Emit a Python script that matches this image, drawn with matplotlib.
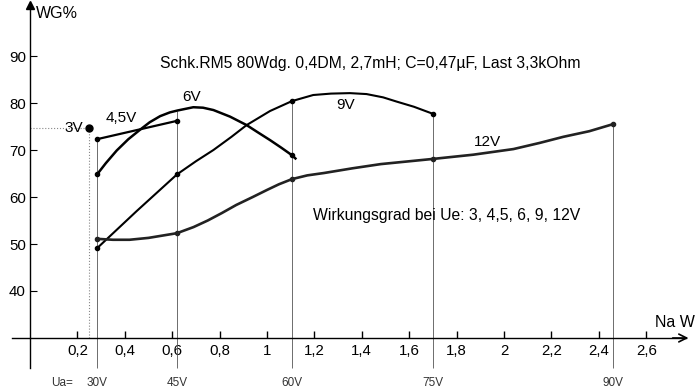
import numpy as np
import matplotlib.pyplot as plt

plt.rcParams['font.family'] = ['Liberation Sans', 'DejaVu Sans']

# ---- Werte (x = Na in W, y = WG in %) ----
u3_x = [0.25]
u3_y = [74.7]

u45_x = [0.283, 0.62]
u45_y = [72.3, 76.2]

u6_x = [0.283, 0.32, 0.366, 0.415, 0.464, 0.505, 0.549, 0.59, 0.622, 0.689, 0.73, 0.774,
        0.844, 0.914, 0.96, 1.013, 1.06, 1.105, 1.12]
u6_y = [64.8, 67.2, 69.9, 72.3, 74.3, 75.9, 77.2, 78.0, 78.4, 79.1, 79.0, 78.5,
        77.1, 75.3, 73.8, 72.1, 70.5, 68.9, 68.2]

u9_x = [0.283, 0.45, 0.62, 0.70, 0.774, 0.85, 0.914, 1.013, 1.105, 1.195, 1.27, 1.35, 1.42,
        1.49, 1.547, 1.62, 1.70]
u9_y = [49.1, 57.0, 64.8, 67.6, 70.0, 72.8, 75.3, 78.3, 80.4, 81.7, 82.0, 82.1, 81.9,
        81.2, 80.3, 79.2, 77.7]

u12_x = [0.283, 0.35, 0.42, 0.5, 0.62, 0.69, 0.75, 0.81, 0.87, 0.94, 1.0, 1.05, 1.105, 1.17,
         1.24, 1.36, 1.48, 1.60, 1.70, 1.87, 2.04, 2.15, 2.25, 2.36, 2.46]
u12_y = [51.1, 50.9, 50.9, 51.3, 52.3, 53.6, 55.0, 56.6, 58.3, 60.0, 61.5, 62.7, 63.8, 64.6,
         65.1, 66.1, 67.0, 67.6, 68.1, 69.0, 70.2, 71.5, 72.8, 74.0, 75.5]

ua_x = [0.283, 0.62, 1.105, 1.70, 2.46]
ua_lab = ['30V', '45V', '60V', '75V', '90V']
ua_top = [72.3, 78.4, 80.4, 77.7, 75.5]

xticks = [0.2, 0.4, 0.6, 0.8, 1.0, 1.2, 1.4, 1.6, 1.8, 2.0, 2.2, 2.4, 2.6]
xlabels = ['0,2', '0,4', '0,6', '0,8', '1', '1,2', '1,4', '1,6', '1,8', '2', '2,2', '2,4', '2,6']
yticks = [40, 50, 60, 70, 80, 90]

fig = plt.figure(figsize=(7, 3.92), dpi=100)
ax = fig.add_axes([0, 0, 1, 1])
ax.set_xlim(-30/237, 670/237)
ax.set_ylim(30 - 54/4.7, 30 + 338/4.7)

# Achsen
for s in ['top', 'right']:
    ax.spines[s].set_visible(False)
ax.spines['left'].set_position(('data', 0))
ax.spines['bottom'].set_position(('data', 30))
ax.spines['left'].set_bounds(23.6, 100.6)
ax.spines['bottom'].set_bounds(-0.076, 2.77)
ax.spines['left'].set_linewidth(1.0)
ax.spines['bottom'].set_linewidth(1.0)
ax.set_xticks(xticks)
ax.set_xticklabels(xlabels)
ax.set_yticks(yticks)
ax.tick_params(axis='x', direction='in', length=5, width=1, pad=4, labelsize=10.8)
ax.tick_params(axis='y', direction='in', length=5, width=0.8, pad=3, labelsize=10.8)
ax.plot([0], [100.8], marker='^', color='k', markersize=6, clip_on=False)
ax.annotate('', xy=(2.79, 30), xytext=(2.70, 30),
            arrowprops=dict(arrowstyle='->', lw=1.2, color='k', mutation_scale=14))

# senkrechte Linien fuer Ua
ax.vlines(ua_x, 23.6, ua_top, color='#555555', lw=0.6)
for x, t in zip(ua_x, ua_lab):
    ax.text(x, 20.4, t, ha='center', va='center', fontsize=8.5, color='#333333')
ax.text(0.135, 20.4, 'Ua=', ha='center', va='center', fontsize=8.5, color='#333333')

# 3V Punkt mit Hilfslinien
ax.plot([0, u3_x[0]], [u3_y[0], u3_y[0]], ':', color='#888888', lw=0.8)
ax.plot([u3_x[0], u3_x[0]], [30, u3_y[0]], ':', color='#888888', lw=0.8)
ax.plot(u3_x, u3_y, 'o', color='k', markersize=5)

# Kurven
ax.plot(u45_x, u45_y, '-', color='k', lw=1.6, marker='o', markersize=3)
ax.plot(u6_x, u6_y, '-', color='k', lw=1.8, marker='o', markersize=3, markevery=[0, 17])
ax.plot(u9_x, u9_y, '-', color='k', lw=1.5, marker='o', markersize=3, markevery=[0, 2, 8, 16])
ax.plot(u12_x, u12_y, '-', color='#222222', lw=1.9, marker='o', markersize=3,
        markevery=[0, 4, 12, 18, 24])

# Beschriftungen
ax.text(0.025, 99.1, 'WG%', ha='left', va='center', fontsize=11.5)
ax.text(0.55, 88.5, 'Schk.RM5 80Wdg. 0,4DM, 2,7mH; C=0,47µF, Last 3,3kOhm',
        ha='left', va='center', fontsize=11.3)
ax.text(1.194, 56.0, 'Wirkungsgrad bei Ue: 3, 4,5, 6, 9, 12V', ha='left', va='center', fontsize=11.3)
ax.text(0.683, 81.3, '6V', ha='center', va='center', fontsize=11)
ax.text(1.33, 79.6, '9V', ha='center', va='center', fontsize=11)
ax.text(0.384, 76.8, '4,5V', ha='center', va='center', fontsize=11)
ax.text(0.224, 74.7, '3V', ha='right', va='center', fontsize=11)
ax.text(1.93, 71.7, '12V', ha='center', va='center', fontsize=11)
ax.text(2.637, 33.4, 'Na W', ha='left', va='center', fontsize=11.5)

fig.savefig('out.png', dpi=100)
